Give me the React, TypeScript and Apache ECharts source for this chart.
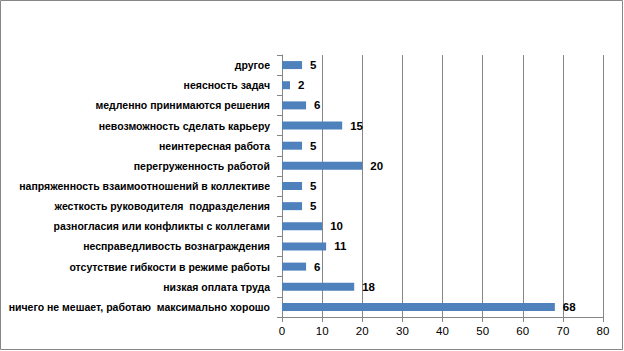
import React, { useEffect, useRef } from "react";
import * as echarts from "echarts";

const categories = [
  "ничего не мешает, работаю  максимально хорошо",
  "низкая оплата труда",
  "отсутствие гибкости в режиме работы",
  "несправедливость вознаграждения",
  "разногласия или конфликты с коллегами",
  "жесткость руководителя  подразделения",
  "напряженность взаимоотношений в коллективе",
  "перегруженность работой",
  "неинтересная работа",
  "невозможность сделать карьеру",
  "медленно принимаются решения",
  "неясность задач",
  "другое",
];
const values = [68, 18, 6, 11, 10, 5, 5, 20, 5, 15, 6, 2, 5];
const axisMin = 0;
const axisMax = 80;
const axisStep = 10;

export default function App() {
  const ref = useRef<HTMLDivElement>(null);
  useEffect(() => {
    document.body.style.margin = "0";
    const chart = echarts.init(ref.current!, null, { renderer: "svg" });
    chart.setOption({
      animation: false,
      backgroundColor: "#ffffff",
      graphic: [
        {
          type: "rect",
          shape: { x: 0.5, y: 0.5, width: 622, height: 349 },
          style: { fill: "none", stroke: "#868686", lineWidth: 1 },
        },
      ],
      grid: { left: 282, right: 21, top: 55, bottom: 34, containLabel: false },
      xAxis: {
        type: "value",
        min: axisMin,
        max: axisMax,
        interval: axisStep,
        axisLine: { show: true, lineStyle: { color: "#868686" } },
        axisTick: { show: true, length: 5, lineStyle: { color: "#868686" } },
        splitLine: { show: true, lineStyle: { color: "#868686" } },
        axisLabel: {
          color: "#000",
          fontSize: 11.5,
          fontFamily: "Liberation Sans",
          margin: 8,
        },
      },
      yAxis: {
        type: "category",
        data: categories,
        axisLine: { show: true, lineStyle: { color: "#868686" } },
        axisTick: { show: true, length: 5, lineStyle: { color: "#868686" } },
        axisLabel: {
          color: "#000",
          fontSize: 10.5,
          fontWeight: "bold",
          fontFamily: "Liberation Sans",
          margin: 12,
        },
      },
      series: [
        {
          type: "bar",
          data: values,
          barWidth: 8,
          itemStyle: { color: "#4f81bd" },
          label: {
            show: true,
            position: "right",
            distance: 8,
            color: "#000",
            fontSize: 11.5,
            fontWeight: "bold",
            fontFamily: "Liberation Sans",
          },
        },
      ],
    });
    return () => chart.dispose();
  }, []);
  return <div ref={ref} style={{ width: 624, height: 351 }} />;
}
